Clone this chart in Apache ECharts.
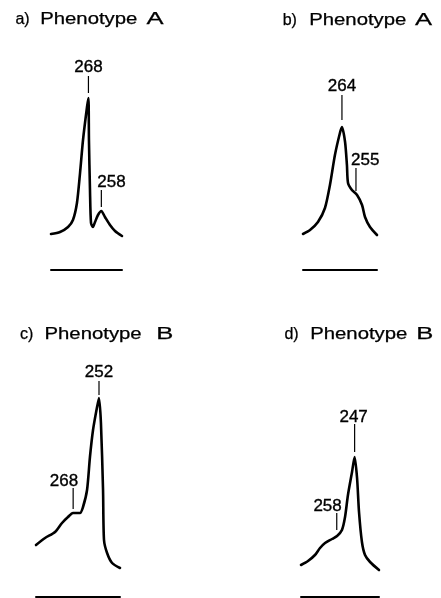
<!DOCTYPE html>
<html>
<head>
<meta charset="utf-8">
<script src="https://cdn.jsdelivr.net/npm/echarts@6/dist/echarts.min.js"></script>
<style>
  html, body { margin: 0; padding: 0; background: #fff; }
  #chart { width: 441px; height: 598px; }
</style>
</head>
<body>
<div id="chart"></div>
<script>
// Absorption traces: wavelength (nm) and relative signal for each panel
const nmA1 = [297, 290, 283.8, 280, 276.9, 274.5, 272.2, 269.1, 268, 267.6, 266.8, 266, 264.5, 262.9, 260.6, 258, 255.2, 251.3, 247.4, 242];
const sigA1 = [18, 19, 21.5, 25, 33.5, 48.5, 65, 81.5, 86, 65, 40, 23.5, 21.5, 24, 27.5, 29.5, 26.5, 22.5, 19.5, 17];

const nmA2 = [289, 284.5, 279.4, 274.9, 271.7, 268.5, 265.3, 264, 262, 260.8, 260.1, 257.6, 254.3, 251.1, 249.2, 246, 241.5];
const sigA2 = [18, 20, 24, 31, 42.5, 57.5, 68.5, 71.5, 64, 52.5, 43.5, 40, 37.5, 32.5, 26.5, 21.5, 17.5];

const nmB1 = [291, 285.4, 279.2, 274.9, 271.2, 268.1, 263.8, 261.9, 259.4, 257.6, 255.7, 253.2, 252, 250.8, 249.5, 248.9, 247, 243.9, 239];
const sigB1 = [26, 29.5, 32.5, 37, 40, 42, 42, 45, 53.5, 70, 83.5, 95, 99.5, 87, 53.5, 28.5, 22, 17, 14.5];

const nmB2 = [280, 275.7, 271.4, 268.3, 265.2, 260.9, 257.8, 254.8, 252.9, 251.1, 248.6, 247, 245.5, 244.3, 242.5, 240.6, 237.5, 232];
const sigB2 = [16, 18, 21, 24.5, 27, 29, 30.5, 33.5, 40, 51, 62.5, 70, 59.5, 42.5, 27.5, 21, 17.5, 13.5];

// Labelled maxima (nm) and the trace level at each of them
const peaksA1 = [268, 258];
const levelsA1 = [86, 29.5];
const peaksA2 = [264, 255];
const levelsA2 = [71.5, 37.5];
const peaksB1 = [252, 268];
const levelsB1 = [99.5, 42];
const peaksB2 = [247, 258];
const levelsB2 = [70, 30.5];

// Panel headings
const panelTags = ['a)', 'b)', 'c)', 'd)'];
const headingWord = 'Phenotype';
const phenotypes = ['A', 'A', 'B', 'B'];

// ---- layout ----
const PX_PER_UNIT = 2;          // grid height 260 px for 0..130
const Y_MAX = 130;
const FONT = '"Liberation Sans", Arial, Helvetica, sans-serif';

const panels = [
  { nm: nmA1, sig: sigA1, peaks: peaksA1, levels: levelsA1,
    grid: { left: 51, top: 10, width: 71, height: 260 }, xMin: 242, xMax: 297,
    marks: [ { gap: 5, len: 17, align: 'center', dx: 0, lift: 0.5 },
             { gap: 4, len: 17, align: 'left', dx: -4, lift: -0.5 } ],
    head: { y: 19.8, tag: 15.4, word: 40.2, letter: 146.5 } },
  { nm: nmA2, sig: sigA2, peaks: peaksA2, levels: levelsA2,
    grid: { left: 303, top: 10, width: 74, height: 260 }, xMin: 241.5, xMax: 289,
    marks: [ { gap: 7, len: 25, align: 'center', dx: 0, lift: 0.5 },
             { gap: 4, len: 23, align: 'left', dx: -5, lift: -1 } ],
    head: { y: 20.3, tag: 282.7, word: 309.2, letter: 415 } },
  { nm: nmB1, sig: sigB1, peaks: peaksB1, levels: levelsB1,
    grid: { left: 36, top: 337, width: 84, height: 260 }, xMin: 239, xMax: 291,
    marks: [ { gap: 3, len: 14, align: 'center', dx: 0, lift: 0.5 },
             { gap: 4, len: 21, align: 'right', dx: 5, lift: -2 } ],
    head: { y: 335, tag: 20.1, word: 44.5, letter: 156.2 } },
  { nm: nmB2, sig: sigB2, peaks: peaksB2, levels: levelsB2,
    grid: { left: 301, top: 337, width: 78, height: 260 }, xMin: 232, xMax: 280,
    marks: [ { gap: 5, len: 28, align: 'center', dx: -1, lift: -1.5 },
             { gap: 6, len: 17, align: 'right', dx: 5, lift: -1.5 } ],
    head: { y: 335, tag: 284.4, word: 310.2, letter: 416.2 } }
];

const grids = [], xAxes = [], yAxes = [], series = [], graphics = [];

panels.forEach((p, i) => {
  grids.push(Object.assign({ containLabel: false }, p.grid));
  xAxes.push({
    type: 'value', gridIndex: i, min: p.xMin, max: p.xMax, inverse: true,
    axisLine: { show: true, onZero: false, lineStyle: { color: '#000', width: 2 } },
    axisTick: { show: false }, axisLabel: { show: false }, splitLine: { show: false }
  });
  yAxes.push({ type: 'value', gridIndex: i, min: 0, max: Y_MAX, show: false, splitLine: { show: false } });

  // trace
  series.push({
    type: 'line', xAxisIndex: i, yAxisIndex: i,
    data: p.nm.map((x, k) => [x, p.sig[k]]),
    symbol: 'none', smooth: 0.25,
    lineStyle: { color: '#000', width: 2.6, cap: 'round', join: 'round' },
    silent: true, z: 3
  });

  // marker stems and their wavelength labels
  p.peaks.forEach((nm, k) => {
    const m = p.marks[k];
    const lo = p.levels[k] + m.gap / PX_PER_UNIT;
    const hi = p.levels[k] + (m.gap + m.len) / PX_PER_UNIT;
    series.push({
      type: 'line', xAxisIndex: i, yAxisIndex: i,
      data: [[nm, lo], [nm, hi]],
      symbol: 'none', lineStyle: { color: '#000', width: 1.2 }, silent: true, z: 2
    });
    series.push({
      type: 'scatter', xAxisIndex: i, yAxisIndex: i,
      symbolSize: 0, silent: true, z: 4,
      itemStyle: { opacity: 1, color: '#000' },
      data: [{
        value: [nm, hi],
        label: {
          show: true, formatter: String(nm), position: 'top',
          distance: m.lift, align: m.align, offset: [m.dx, 0], opacity: 1,
          color: '#000', fontFamily: FONT, fontSize: 17, lineHeight: 17,
          textBorderColor: '#000', textBorderWidth: 0.35
        }
      }]
    });
  });

  // heading: tag, word and phenotype letter
  const h = p.head;
  const part = (text, x, sx) => ({
    type: 'text', x: x, y: h.y, scaleX: sx, silent: true,
    style: { text: text, fill: '#000', stroke: '#000', lineWidth: 0.25,
             font: '16px ' + FONT, align: 'left', verticalAlign: 'middle' }
  });
  graphics.push(part(panelTags[i], h.tag, 1.0));
  graphics.push(part(headingWord, h.word, 1.27));
  graphics.push(part(phenotypes[i], h.letter, 1.6));
});

const chart = echarts.init(document.getElementById('chart'), null, { renderer: 'canvas' });
chart.setOption({
  animation: false,
  backgroundColor: '#fff',
  grid: grids,
  xAxis: xAxes,
  yAxis: yAxes,
  series: series,
  graphic: graphics
});
</script>
</body>
</html>
